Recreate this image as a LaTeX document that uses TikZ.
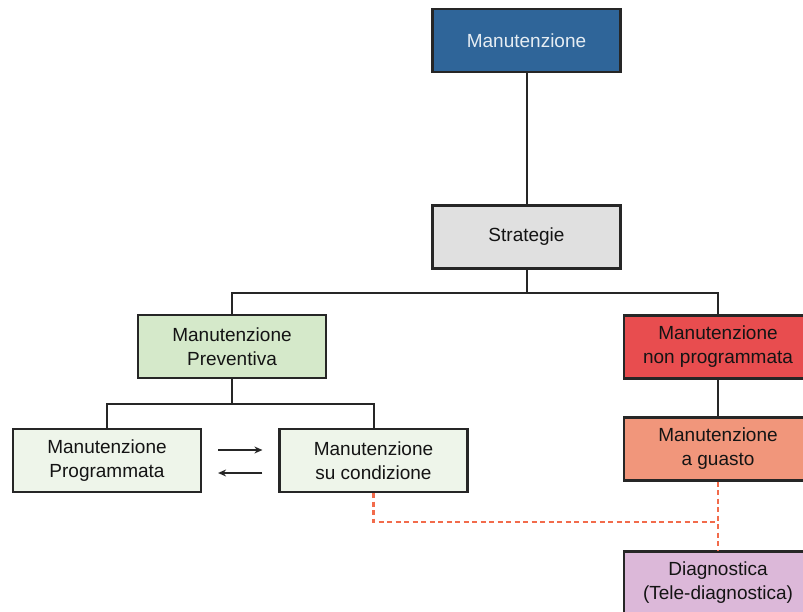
\documentclass[tikz,border=0pt]{standalone}
\usepackage{fontspec}
\setmainfont{Liberation Sans}
\usetikzlibrary{arrows.meta,calc}
\definecolor{cblue}{HTML}{2F6599}
\definecolor{cgray}{HTML}{E0E0E0}
\definecolor{cgreen}{HTML}{D5E9CA}
\definecolor{clgreen}{HTML}{EEF5EA}
\definecolor{cred}{HTML}{E84D4F}
\definecolor{csalmon}{HTML}{F1967B}
\definecolor{clilac}{HTML}{DCB8D9}
\definecolor{cdash}{HTML}{F26B4B}
\definecolor{cborder}{HTML}{262626}
\definecolor{ctext}{HTML}{141414}
\begin{document}
\begin{tikzpicture}[x=1pt,y=-1pt,
  box/.style={draw=cborder,line width=2.2pt,minimum width=188pt,minimum height=63pt,
    inner sep=0pt,align=center,text=ctext,font=\fontsize{19}{24}\selectfont},
  conn/.style={draw=cborder,line width=2pt},
  dashconn/.style={draw=cdash,line width=2.4pt,dash pattern=on 5pt off 3.5pt},
  arr/.style={draw=cborder,line width=1.6pt,-{Stealth[length=8pt,width=7pt]}}]
\useasboundingbox (0,0) rectangle (803,612);
\clip (0,0) rectangle (803,612);
\fill[white] (0,0) rectangle (803,612);
\node[box,fill=cblue,text=white!88!cblue] (top) at (526.5,40.5) {Manutenzione};
\node[box,fill=cgray] (strat) at (526.5,237) {Strategie};
\node[box,fill=cgreen] (prev) at (232,346.5) {Manutenzione\\Preventiva};
\node[box,fill=clgreen] (prog) at (107,460.5) {Manutenzione\\Programmata};
\node[box,fill=clgreen] (cond) at (373.5,460.5) {Manutenzione\\su condizione};
\node[box,fill=cred] (nonprog) at (718,347) {Manutenzione\\non programmata};
\node[box,fill=csalmon] (guasto) at (718,449) {Manutenzione\\a guasto};
\node[box,fill=clilac] (diag) at (718,583) {Diagnostica\\(Tele-diagnostica)};
\coordinate (bar1) at (526.5,293);
\coordinate (bar2) at (232,404);
\coordinate (dj) at (718,522);
\draw[conn] (top.south) -- (strat.north);
\draw[conn] (strat.south) -- (bar1) -| (prev.north);
\draw[conn] (bar1) -| (nonprog.north);
\draw[conn] (prev.south) -- (bar2) -| (prog.north);
\draw[conn] (bar2) -| (cond.north);
\draw[conn] (nonprog.south) -- (guasto.north);
\draw[dashconn] (cond.south) |- (dj);
\draw[dashconn] (guasto.south) -- (diag.north);
\draw[arr] ($(prog.east)+(16,-10.5)$) -- ($(cond.west)+(-16,-10.5)$);
\draw[arr] ($(cond.west)+(-16,12.5)$) -- ($(prog.east)+(16,12.5)$);
\end{tikzpicture}
\end{document}
